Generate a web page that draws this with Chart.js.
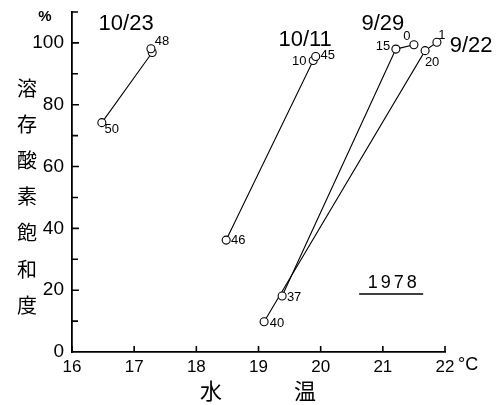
<!DOCTYPE html>
<html>
<head>
<meta charset="utf-8">
<script src="https://cdn.jsdelivr.net/npm/chart.js@4"></script>
<style>
  html, body { margin: 0; padding: 0; background: #fff; }
  #wrap { width: 496px; height: 405px; }
</style>
</head>
<body>
<div id="wrap"><canvas id="c" width="496" height="405"></canvas></div>
<script>
// ---- data ----
const seriesNames = ['10/23', '10/11', '9/29', '9/22'];
const temp_1023 = [16.48, 17.29, 17.27];
const do_1023   = [74.2, 96.9, 98.1];
const lab_1023  = ['50', '', '48'];
const temp_1011 = [18.48, 19.88, 19.92];
const do_1011   = [36.2, 94.3, 95.6];
const lab_1011  = ['46', '10', '45'];
const temp_0929 = [19.38, 21.21, 21.50];
const do_0929   = [18.1, 98.0, 99.4];
const lab_0929  = ['37', '15', '0'];
const temp_0922 = [19.09, 21.68, 21.87];
const do_0922   = [9.8, 97.5, 100.2];
const lab_0922  = ['40', '20', '1'];
const xTickLabels = ['16', '17', '18', '19', '20', '21', '22'];
const yTickLabels = ['0', '20', '40', '60', '80', '100'];
const yearText = '1978';
const xTitle = ['水', '温'];
const yTitle = ['溶', '存', '酸', '素', '飽', '和', '度'];

// ---- placement / style (not data) ----
const labelOffsets = {
  '10/23': [[10, 7], [0, 0], [11, -7]],
  '10/11': [[12, 0], [-14, 1], [12, -1]],
  '9/29':  [[12, 1], [-13, -3], [-7, -8]],
  '9/22':  [[13, 2], [7, 12], [5, -7]]
};
const dateAnchors = {
  '10/23': [16.87, 106.1],
  '10/11': [19.75, 101.0],
  '9/29':  [21.0, 106.1],
  '9/22':  [22.42, 99.0]
};
const yearAnchor = [21.15, 22.3];

function pts(xs, ys) { return xs.map((x, i) => ({ x: x, y: ys[i] })); }
const allSeries = [
  { name: seriesNames[0], data: pts(temp_1023, do_1023), labels: lab_1023 },
  { name: seriesNames[1], data: pts(temp_1011, do_1011), labels: lab_1011 },
  { name: seriesNames[2], data: pts(temp_0929, do_0929), labels: lab_0929 },
  { name: seriesNames[3], data: pts(temp_0922, do_0922), labels: lab_0922 }
];

const NUM_FONT = "'Liberation Sans', Arial, sans-serif";
const CJK_FONT = "'Noto Sans CJK JP', 'Noto Sans CJK SC', sans-serif";

const decor = {
  id: 'decor',
  afterDraw(chart) {
    const ctx = chart.ctx;
    const xs = chart.scales.x, ys = chart.scales.y;
    const ca = chart.chartArea;
    ctx.save();
    ctx.strokeStyle = '#000';
    ctx.fillStyle = '#000';
    // inward ticks
    ctx.lineWidth = 1.6;
    ctx.beginPath();
    for (let v = 16; v <= 22; v++) {
      const px = xs.getPixelForValue(v);
      ctx.moveTo(px, ca.bottom);
      ctx.lineTo(px, ca.bottom - 6);
    }
    for (let v = 10; v <= 110; v += 10) {
      const py = ys.getPixelForValue(v);
      ctx.moveTo(ca.left, py);
      ctx.lineTo(ca.left + (v % 20 === 0 ? 7 : 6), py);
    }
    ctx.stroke();

    // point labels
    ctx.font = '13px ' + NUM_FONT;
    ctx.textAlign = 'center';
    ctx.textBaseline = 'middle';
    allSeries.forEach((s, si) => {
      const meta = chart.getDatasetMeta(si);
      meta.data.forEach((el, i) => {
        const t = s.labels[i];
        if (!t) return;
        const off = labelOffsets[s.name][i];
        ctx.fillText(t, el.x + off[0], el.y + off[1]);
      });
    });

    // date labels
    ctx.font = '22px ' + NUM_FONT;
    seriesNames.forEach(n => {
      const a = dateAnchors[n];
      ctx.fillText(n, xs.getPixelForValue(a[0]), ys.getPixelForValue(a[1]));
    });

    // year with underline
    const yx = xs.getPixelForValue(yearAnchor[0]);
    const yy = ys.getPixelForValue(yearAnchor[1]);
    ctx.font = '18px ' + NUM_FONT;
    try { ctx.letterSpacing = '3px'; } catch (e) {}
    ctx.fillText(yearText, yx + 1.5, yy);
    try { ctx.letterSpacing = '0px'; } catch (e) {}
    ctx.lineWidth = 1.6;
    ctx.beginPath();
    ctx.moveTo(yx - 33, yy + 11);
    ctx.lineTo(yx + 31, yy + 11);
    ctx.stroke();

    // unit labels
    ctx.font = 'bold 15px ' + NUM_FONT;
    ctx.fillText('%', 45, 17);
    ctx.font = '18px ' + NUM_FONT;
    ctx.textAlign = 'left';
    ctx.fillText('°C', ca.right + 13, ca.bottom + 13);

    // axis titles
    ctx.textAlign = 'center';
    ctx.font = '20px ' + CJK_FONT;
    yTitle.forEach((ch, i) => {
      ctx.fillText(ch, 27, 88 + i * 36.2);
    });
    ctx.font = '22px ' + CJK_FONT;
    ctx.fillText(xTitle[0], 211, 391);
    ctx.fillText(xTitle[1], 305, 391);
    ctx.restore();
  }
};

new Chart(document.getElementById('c'), {
  type: 'scatter',
  data: {
    datasets: allSeries.map(s => ({
      label: s.name,
      data: s.data,
      showLine: true,
      borderColor: '#000',
      borderWidth: 1.1,
      pointRadius: 4,
      pointBorderWidth: 1.1,
      pointBackgroundColor: '#fff',
      pointBorderColor: '#000',
      tension: 0
    }))
  },
  options: {
    responsive: false,
    animation: false,
    devicePixelRatio: 1,
    layout: { padding: { left: 0, right: 51, top: 12, bottom: 0 } },
    plugins: { legend: { display: false }, tooltip: { enabled: false } },
    scales: {
      x: {
        type: 'linear', min: 16, max: 22,
        afterFit: s => { s.height = 53; },
        grid: { display: true, drawOnChartArea: false, drawTicks: false },
        border: { display: true, color: '#000', width: 1.8 },
        ticks: {
          stepSize: 1, padding: 5, color: '#000',
          font: { family: NUM_FONT, size: 17 },
          maxRotation: 0, autoSkip: false,
          callback: v => { const t = String(v); return xTickLabels.includes(t) ? t : ''; }
        }
      },
      y: {
        type: 'linear', min: 0, max: 110,
        afterFit: s => { s.width = 72; s.paddingTop = 0; s.paddingBottom = 0; },
        grid: { display: true, drawOnChartArea: false, drawTicks: false },
        border: { display: true, color: '#000', width: 1.8 },
        ticks: {
          stepSize: 10, padding: 8, color: '#000',
          font: { family: NUM_FONT, size: 19 },
          autoSkip: false,
          callback: v => { const t = String(v); return yTickLabels.includes(t) ? t : ''; }
        }
      }
    }
  },
  plugins: [decor]
});
</script>
</body>
</html>
